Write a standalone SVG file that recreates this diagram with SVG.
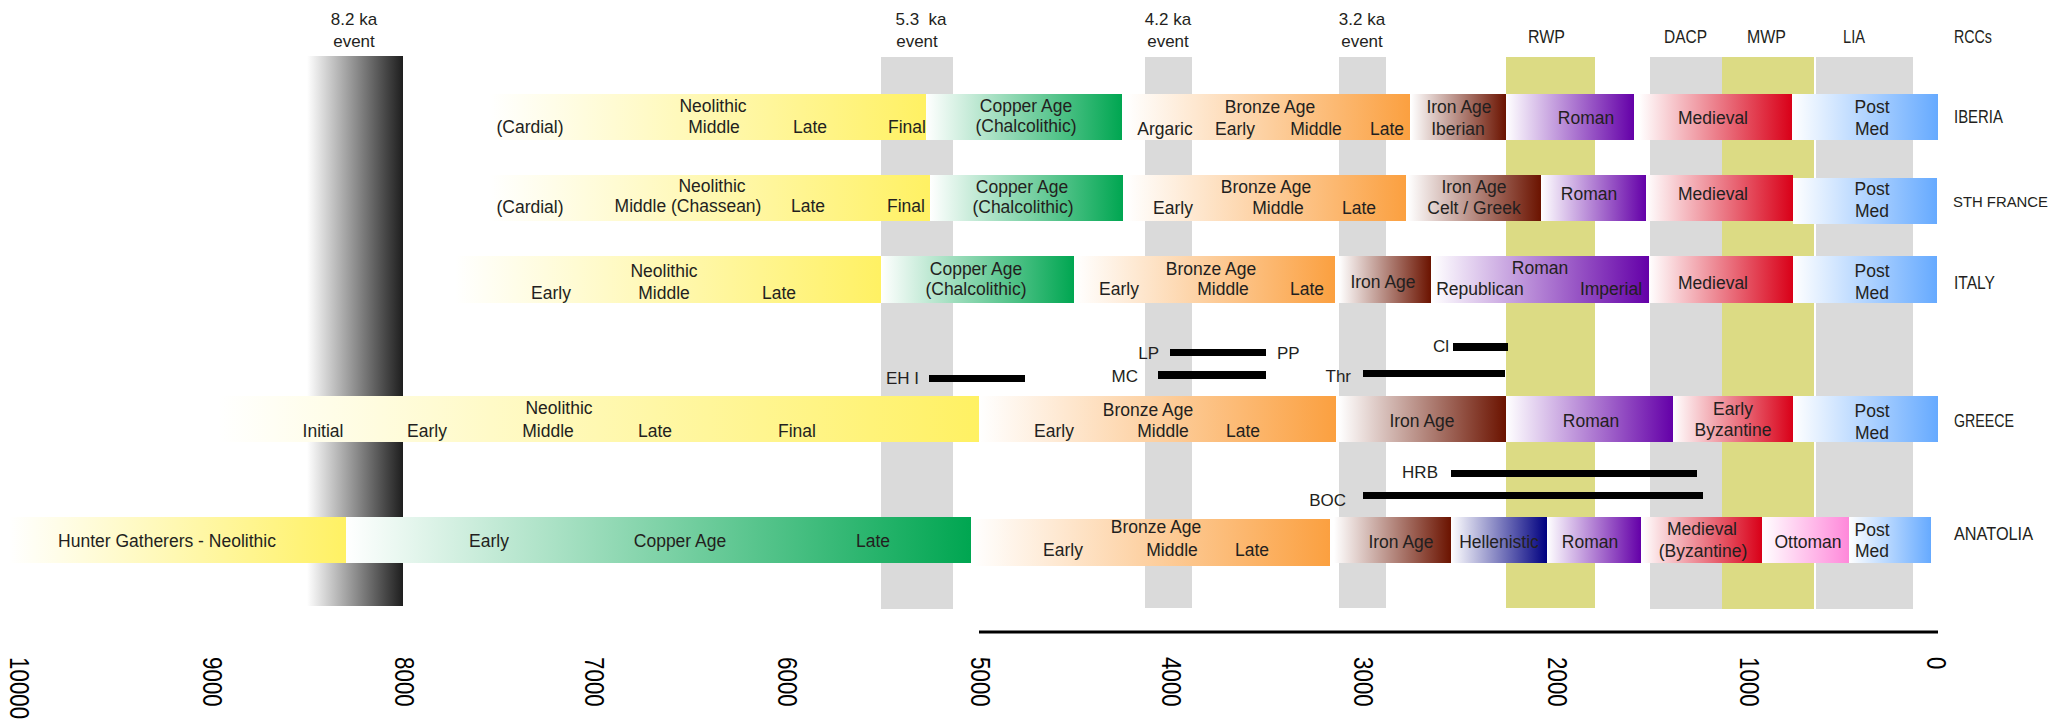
<svg xmlns="http://www.w3.org/2000/svg" width="2055" height="722" viewBox="0 0 2055 722">
<defs>
<linearGradient id="g82"><stop offset="0" stop-color="#ffffff"/><stop offset="1" stop-color="#1e1e1e"/></linearGradient>
<linearGradient id="gneo"><stop offset="0" stop-color="#ffffff"/><stop offset="1" stop-color="#fff163"/></linearGradient>
<linearGradient id="gcop"><stop offset="0" stop-color="#ffffff"/><stop offset="1" stop-color="#00a651"/></linearGradient>
<linearGradient id="gbro"><stop offset="0" stop-color="#ffffff"/><stop offset="1" stop-color="#fba040"/></linearGradient>
<linearGradient id="giro"><stop offset="0" stop-color="#ffffff"/><stop offset="1" stop-color="#6b1300"/></linearGradient>
<linearGradient id="grom"><stop offset="0" stop-color="#ffffff"/><stop offset="1" stop-color="#6400a8"/></linearGradient>
<linearGradient id="gmed"><stop offset="0" stop-color="#ffffff"/><stop offset="1" stop-color="#d90018"/></linearGradient>
<linearGradient id="gpos"><stop offset="0" stop-color="#ffffff"/><stop offset="1" stop-color="#66aaff"/></linearGradient>
<linearGradient id="ghel"><stop offset="0" stop-color="#ffffff"/><stop offset="1" stop-color="#000080"/></linearGradient>
<linearGradient id="gott"><stop offset="0" stop-color="#ffffff"/><stop offset="1" stop-color="#ff88da"/></linearGradient>
</defs>
<style>
text{font-family:"Liberation Sans",Arial,sans-serif;fill:#231f20}
.t{font-size:17.5px;text-anchor:middle}
.h{font-size:17px;text-anchor:middle;white-space:pre}
.c{font-size:17.5px}
.r{font-size:17.5px}
.rs{font-size:15.5px}
.e{font-size:17px;text-anchor:end}
.s{font-size:17px}
.ax{font-size:27px;fill:#000}
.grey{fill:#dadada}
.yel{fill:#dcdb84}
.rng{fill:#000}
</style>
<rect width="2055" height="722" fill="#fff"/>

<g id="climate-events">
<rect x="307" y="56" width="96" height="550" fill="url(#g82)"/>
<rect class="grey" x="881" y="57" width="72" height="552"/>
<rect class="grey" x="1145" y="57" width="47" height="551"/>
<rect class="grey" x="1339" y="57" width="47" height="551"/>
<rect class="yel" x="1506" y="57" width="89" height="551"/>
<rect class="grey" x="1650" y="57" width="72" height="552"/>
<rect class="yel" x="1722" y="57" width="92" height="552"/>
<rect class="grey" x="1816" y="57" width="97" height="552"/>
<text class="h" x="354" y="25">8.2 ka</text><text class="h" x="354" y="47">event</text>
<text class="h" x="921" y="25">5.3  ka</text><text class="h" x="917" y="47">event</text>
<text class="h" x="1168" y="25">4.2 ka</text><text class="h" x="1168" y="47">event</text>
<text class="h" x="1362" y="25">3.2 ka</text><text class="h" x="1362" y="47">event</text>
<text class="c" x="1528" y="43" textLength="37" lengthAdjust="spacingAndGlyphs">RWP</text>
<text class="c" x="1664" y="43" textLength="43" lengthAdjust="spacingAndGlyphs">DACP</text>
<text class="c" x="1747" y="43" textLength="39" lengthAdjust="spacingAndGlyphs">MWP</text>
<text class="c" x="1843" y="43" textLength="22" lengthAdjust="spacingAndGlyphs">LIA</text>
<text class="r" x="1954" y="43" textLength="38" lengthAdjust="spacingAndGlyphs">RCCs</text>
</g>

<g id="iberia">
<rect x="490" y="94" width="436" height="46" fill="url(#gneo)"/>
<rect x="926" y="94" width="196" height="46" fill="url(#gcop)"/>
<rect x="1126" y="94" width="284" height="46" fill="url(#gbro)"/>
<rect x="1411" y="94" width="95" height="46" fill="url(#giro)"/>
<rect x="1506" y="94" width="128" height="46" fill="url(#grom)"/>
<rect x="1639" y="94" width="153" height="46" fill="url(#gmed)"/>
<rect x="1792" y="94" width="146" height="46" fill="url(#gpos)"/>
<text class="t" x="530" y="133">(Cardial)</text>
<text class="t" x="713" y="112">Neolithic</text>
<text class="t" x="714" y="133">Middle</text>
<text class="t" x="810" y="133">Late</text>
<text class="t" x="907" y="133">Final</text>
<text class="t" x="1026" y="112">Copper Age</text>
<text class="t" x="1026" y="132">(Chalcolithic)</text>
<text class="t" x="1270" y="113">Bronze Age</text>
<text class="t" x="1165" y="135">Argaric</text>
<text class="t" x="1235" y="135">Early</text>
<text class="t" x="1316" y="135">Middle</text>
<text class="t" x="1387" y="135">Late</text>
<text class="t" x="1459" y="113">Iron Age</text>
<text class="t" x="1458" y="135">Iberian</text>
<text class="t" x="1586" y="124">Roman</text>
<text class="t" x="1713" y="124">Medieval</text>
<text class="t" x="1872" y="113">Post</text>
<text class="t" x="1872" y="135">Med</text>
<text class="r" x="1954" y="123" textLength="49" lengthAdjust="spacingAndGlyphs">IBERIA</text>
</g>

<g id="sth-france">
<rect x="490" y="175" width="440" height="46" fill="url(#gneo)"/>
<rect x="930" y="175" width="193" height="46" fill="url(#gcop)"/>
<rect x="1126" y="175" width="280" height="46" fill="url(#gbro)"/>
<rect x="1408" y="175" width="133" height="46" fill="url(#giro)"/>
<rect x="1541" y="175" width="105" height="46" fill="url(#grom)"/>
<rect x="1646" y="175" width="147" height="46" fill="url(#gmed)"/>
<rect x="1793" y="178" width="144" height="46" fill="url(#gpos)"/>
<text class="t" x="530" y="213">(Cardial)</text>
<text class="t" x="712" y="192">Neolithic</text>
<text class="t" x="688" y="212">Middle (Chassean)</text>
<text class="t" x="808" y="212">Late</text>
<text class="t" x="906" y="212">Final</text>
<text class="t" x="1022" y="193">Copper Age</text>
<text class="t" x="1023" y="213">(Chalcolithic)</text>
<text class="t" x="1266" y="193">Bronze Age</text>
<text class="t" x="1173" y="214">Early</text>
<text class="t" x="1278" y="214">Middle</text>
<text class="t" x="1359" y="214">Late</text>
<text class="t" x="1474" y="193">Iron Age</text>
<text class="t" x="1474" y="214">Celt / Greek</text>
<text class="t" x="1589" y="200">Roman</text>
<text class="t" x="1713" y="200">Medieval</text>
<text class="t" x="1872" y="195">Post</text>
<text class="t" x="1872" y="217">Med</text>
<text class="rs" x="1953" y="207" textLength="95" lengthAdjust="spacingAndGlyphs">STH FRANCE</text>
</g>

<g id="italy">
<rect x="455" y="256" width="426" height="47" fill="url(#gneo)"/>
<rect x="881" y="256" width="193" height="47" fill="url(#gcop)"/>
<rect x="1075" y="256" width="260" height="47" fill="url(#gbro)"/>
<rect x="1339" y="256" width="92" height="47" fill="url(#giro)"/>
<rect x="1432" y="256" width="217" height="47" fill="url(#grom)"/>
<rect x="1649" y="256" width="144" height="47" fill="url(#gmed)"/>
<rect x="1793" y="256" width="144" height="47" fill="url(#gpos)"/>
<text class="t" x="551" y="299">Early</text>
<text class="t" x="664" y="277">Neolithic</text>
<text class="t" x="664" y="299">Middle</text>
<text class="t" x="779" y="299">Late</text>
<text class="t" x="976" y="275">Copper Age</text>
<text class="t" x="976" y="295">(Chalcolithic)</text>
<text class="t" x="1211" y="275">Bronze Age</text>
<text class="t" x="1119" y="295">Early</text>
<text class="t" x="1223" y="295">Middle</text>
<text class="t" x="1307" y="295">Late</text>
<text class="t" x="1383" y="288">Iron Age</text>
<text class="t" x="1540" y="274">Roman</text>
<text class="t" x="1480" y="295">Republican</text>
<text class="t" x="1611" y="295">Imperial</text>
<text class="t" x="1713" y="289">Medieval</text>
<text class="t" x="1872" y="277">Post</text>
<text class="t" x="1872" y="299">Med</text>
<text class="r" x="1954" y="289" textLength="41" lengthAdjust="spacingAndGlyphs">ITALY</text>
</g>

<g id="greece">
<rect x="219" y="396" width="760" height="46" fill="url(#gneo)"/>
<rect x="979" y="396" width="357" height="46" fill="url(#gbro)"/>
<rect x="1339" y="396" width="167" height="46" fill="url(#giro)"/>
<rect x="1506" y="396" width="167" height="46" fill="url(#grom)"/>
<rect x="1673" y="396" width="120" height="46" fill="url(#gmed)"/>
<rect x="1793" y="396" width="145" height="46" fill="url(#gpos)"/>
<text class="t" x="323" y="437">Initial</text>
<text class="t" x="427" y="437">Early</text>
<text class="t" x="559" y="414">Neolithic</text>
<text class="t" x="548" y="437">Middle</text>
<text class="t" x="655" y="437">Late</text>
<text class="t" x="797" y="437">Final</text>
<text class="t" x="1148" y="416">Bronze Age</text>
<text class="t" x="1054" y="437">Early</text>
<text class="t" x="1163" y="437">Middle</text>
<text class="t" x="1243" y="437">Late</text>
<text class="t" x="1422" y="427">Iron Age</text>
<text class="t" x="1591" y="427">Roman</text>
<text class="t" x="1733" y="415">Early</text>
<text class="t" x="1733" y="436">Byzantine</text>
<text class="t" x="1872" y="417">Post</text>
<text class="t" x="1872" y="439">Med</text>
<text class="r" x="1954" y="427" textLength="60" lengthAdjust="spacingAndGlyphs">GREECE</text>
</g>

<g id="anatolia">
<rect x="9" y="517" width="337" height="46" fill="url(#gneo)"/>
<rect x="346" y="517" width="625" height="46" fill="url(#gcop)"/>
<rect x="972" y="519" width="358" height="47" fill="url(#gbro)"/>
<rect x="1334" y="517" width="117" height="46" fill="url(#giro)"/>
<rect x="1451" y="517" width="96" height="46" fill="url(#ghel)"/>
<rect x="1547" y="517" width="94" height="46" fill="url(#grom)"/>
<rect x="1642" y="517" width="120" height="46" fill="url(#gmed)"/>
<rect x="1762" y="517" width="87" height="46" fill="url(#gott)"/>
<rect x="1849" y="517" width="82" height="46" fill="url(#gpos)"/>
<text class="t" x="167" y="547">Hunter Gatherers - Neolithic</text>
<text class="t" x="489" y="547">Early</text>
<text class="t" x="680" y="547">Copper Age</text>
<text class="t" x="873" y="547">Late</text>
<text class="t" x="1156" y="533">Bronze Age</text>
<text class="t" x="1063" y="556">Early</text>
<text class="t" x="1172" y="556">Middle</text>
<text class="t" x="1252" y="556">Late</text>
<text class="t" x="1401" y="548">Iron Age</text>
<text class="t" x="1499" y="548">Hellenistic</text>
<text class="t" x="1590" y="548">Roman</text>
<text class="t" x="1702" y="535">Medieval</text>
<text class="t" x="1703" y="557">(Byzantine)</text>
<text class="t" x="1808" y="548">Ottoman</text>
<text class="t" x="1872" y="536">Post</text>
<text class="t" x="1872" y="557">Med</text>
<text class="r" x="1954" y="540" textLength="79" lengthAdjust="spacingAndGlyphs">ANATOLIA</text>
</g>

<g id="ranges">
<rect class="rng" x="929" y="375" width="96" height="7"/><text class="e" x="919" y="384">EH I</text>
<rect class="rng" x="1170" y="349" width="96" height="7"/><text class="e" x="1159" y="359">LP</text><text class="s" x="1277" y="359">PP</text>
<rect class="rng" x="1158" y="371" width="108" height="8"/><text class="e" x="1138" y="382">MC</text>
<rect class="rng" x="1363" y="370" width="142" height="7"/><text class="e" x="1351" y="382">Thr</text>
<rect class="rng" x="1453" y="343" width="55" height="8"/><text class="e" x="1449" y="352">Cl</text>
<rect class="rng" x="1451" y="470" width="246" height="7"/><text class="e" x="1438" y="478">HRB</text>
<rect class="rng" x="1363" y="492" width="340" height="7"/><text class="e" x="1346" y="506">BOC</text>
</g>

<g id="axis">
<line x1="979" y1="632" x2="1938" y2="632" stroke="#000" stroke-width="3"/>
<text class="ax" transform="translate(10,657) rotate(90) scale(0.83,1)">10000</text>
<text class="ax" transform="translate(203,657) rotate(90) scale(0.83,1)">9000</text>
<text class="ax" transform="translate(395,657) rotate(90) scale(0.83,1)">8000</text>
<text class="ax" transform="translate(585,657) rotate(90) scale(0.83,1)">7000</text>
<text class="ax" transform="translate(778,657) rotate(90) scale(0.83,1)">6000</text>
<text class="ax" transform="translate(971,657) rotate(90) scale(0.83,1)">5000</text>
<text class="ax" transform="translate(1162,657) rotate(90) scale(0.83,1)">4000</text>
<text class="ax" transform="translate(1354,657) rotate(90) scale(0.83,1)">3000</text>
<text class="ax" transform="translate(1548,657) rotate(90) scale(0.83,1)">2000</text>
<text class="ax" transform="translate(1740,657) rotate(90) scale(0.83,1)">1000</text>
<text class="ax" transform="translate(1927,657) rotate(90) scale(0.83,1)">0</text>
</g>
</svg>
